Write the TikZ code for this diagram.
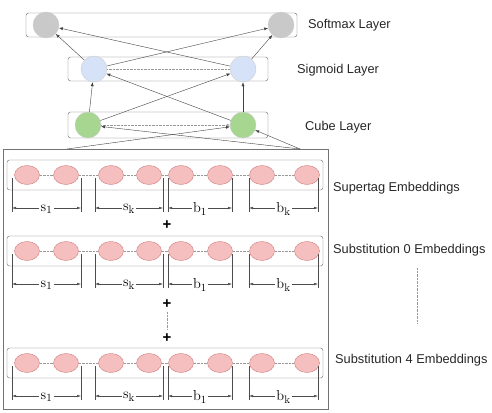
\documentclass[tikz,border=0pt]{standalone}
\usepackage[no-math]{fontspec}
\setmainfont{Liberation Sans}
\usetikzlibrary{shapes.geometric,arrows.meta}
\definecolor{smgray}{HTML}{C9C9C9}
\definecolor{sgblue}{HTML}{D6E2F8}
\definecolor{cbgreen}{HTML}{A6D68F}
\definecolor{embpink}{HTML}{F5BFBF}

\begin{document}
\begin{tikzpicture}[x=1pt, y=-1pt, font=\fontsize{12.8}{15}\selectfont, thin,
    layer/.style = {draw=black!60, rounded corners=2.5pt, inner sep=0pt},
    unit/.style = {draw=black!20, circle, minimum size=26pt, inner sep=0pt},
    emb/.style = {draw=red!45!gray!70, fill=embpink, ellipse, minimum width=25pt, minimum height=19pt, inner sep=0pt},
    conn/.style = {draw=black!75, -{Latex[length=4pt,width=3pt]}},
    link/.style = {draw=black!40, densely dotted},
    dimline/.style = {draw=black!70, {Latex[length=4pt,width=2.5pt]}-{Latex[length=4pt,width=2.5pt]}},
    tag/.style = {anchor=west, text=black!85, inner sep=0pt}]
    \useasboundingbox (0,0) rectangle (492,412);

    % layer boxes
    \node[layer, minimum width=271pt, minimum height=24pt] (smbox) at (161.5,25) {};
    \node[layer, minimum width=200pt, minimum height=24pt] (sgbox) at (168,69) {};
    \node[layer, minimum width=200pt, minimum height=26pt] (cbbox) at (168,125) {};
    \node[draw=black!55, minimum width=325pt, minimum height=260pt, inner sep=0pt] (embbox) at (165.5,279) {};

    % units
    \node[unit, fill=smgray] (sm1) at (46,25) {};
    \node[unit, fill=smgray] (sm2) at (281,25) {};
    \node[unit, fill=sgblue] (sg1) at (94,69) {};
    \node[unit, fill=sgblue] (sg2) at (243,69) {};
    \node[unit, fill=cbgreen] (cb1) at (88,125) {};
    \node[unit, fill=cbgreen] (cb2) at (243,125) {};

    \draw[link] (sg1) -- (sg2);
    \draw[link, -{Latex[length=3pt,width=2.5pt]}] (cb1) -- (cb2);

    \draw[conn] (sg1) -- (sm1);
    \draw[conn] (sg2) -- (sm1);
    \draw[conn] (sg1) -- (sm2);
    \draw[conn] (sg2) -- (sm2);
    \draw[conn] (cb1) -- (sg1);
    \draw[conn] (cb2) -- (sg1);
    \draw[conn] (cb1) -- (sg2);
    \draw[conn] (cb2) -- (sg2);

    % inputs from the embeddings
    \coordinate (inL) at (67,149);
    \coordinate (inR) at (300,149);
    \draw[conn] (inL) -- (cb2);
    \draw[conn] (inR) -- (cb1);
    \draw[conn] (inR) -- (cb2);

    % embedding rows
    \foreach \r/\y in {1/175, 2/251, 3/363} {
        \node[layer, minimum width=316pt, minimum height=30pt] (row\r) at (165,\y) {};
        \foreach \i/\x in {1/27, 2/66, 3/111, 4/149, 5/181, 6/220, 7/262, 8/307}
            \node[emb] (e\r\i) at (\x,\y) {};
        \foreach \i [evaluate=\i as \j using int(\i+1)] in {1,...,7}
            \draw[link] (e\r\i) -- (e\r\j);
        \foreach \a/\b/\t in {12/81/{\mathrm{s}_1}, 95/163/{\mathrm{s}_\mathrm{k}}, 168/232/{\mathrm{b}_1}, 249/318/{\mathrm{b}_\mathrm{k}}} {
            \draw[black!70] (\a,\y+3) -- (\a,\y+37);
            \draw[black!70] (\b,\y+3) -- (\b,\y+37);
            \draw[dimline] (\a,\y+33) -- node[fill=white, inner sep=1.5pt, font=\fontsize{15}{17}\selectfont, yshift=-1pt] {$\t$} (\b,\y+33);
        }
    }

    \node[font=\fontsize{15}{17}\selectfont\bfseries] (plus1) at (167,225) {+};
    \node[font=\fontsize{15}{17}\selectfont\bfseries] (plus2) at (167,304) {+};
    \node[font=\fontsize{15}{17}\selectfont\bfseries] (plus3) at (167,338) {+};
    \draw[link] (plus2) -- (plus3);

    % labels
    \node[tag] (smlab) at (308,25) {Softmax Layer};
    \node[tag] (sglab) at (297,70) {Sigmoid Layer};
    \node[tag] (cblab) at (305,127) {Cube Layer};
    \node[tag] (st) at (333,188) {Supertag Embeddings};
    \node[tag] (sub0) at (333,250) {Substitution 0 Embeddings};
    \node[tag] (sub4) at (335,360) {Substitution 4 Embeddings};
    \coordinate (dotA) at (417,268);
    \coordinate (dotB) at (417,323);
    \draw[link] (dotA) -- (dotB);
\end{tikzpicture}
\end{document}
